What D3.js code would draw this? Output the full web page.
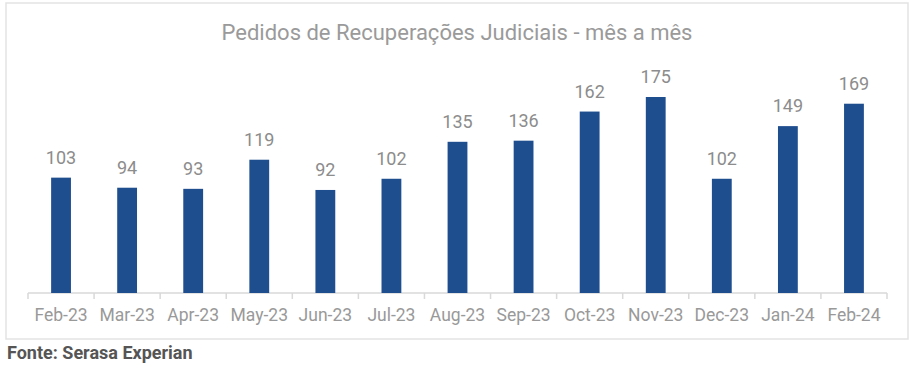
<!DOCTYPE html>
<html>
<head>
<meta charset="utf-8">
<script src="https://cdn.jsdelivr.net/npm/d3@7"></script>
<style>
  body { margin: 0; background: #fff; font-family: Roboto, sans-serif; }
</style>
</head>
<body>
<div id="container"></div>
<script>
/* DATA */
const months = ["Feb-23","Mar-23","Apr-23","May-23","Jun-23","Jul-23","Aug-23","Sep-23","Oct-23","Nov-23","Dec-23","Jan-24","Feb-24"];
const pedidos = [103, 94, 93, 119, 92, 102, 135, 136, 162, 175, 102, 149, 169];

const width = 912;
const height = 376;

const svg = d3.select("#container")
  .append("svg")
  .attr("width", width)
  .attr("height", height);

// frame around the chart
svg.append("rect")
  .attr("x", 6).attr("y", 3)
  .attr("width", 902).attr("height", 336)
  .attr("fill", "none")
  .attr("stroke", "#e3e3e3")
  .attr("stroke-width", 1.5);

// title
svg.append("text")
  .attr("x", 457).attr("y", 40)
  .attr("text-anchor", "middle")
  .attr("font-size", 22)
  .attr("fill", "#9a9a9a")
  .text("Pedidos de Recuperações Judiciais - mês a mês");

/* SCALES */
const xScale = d3.scaleBand()
  .domain(months)
  .range([28, 887])
  .paddingInner(0.7)
  .paddingOuter(0.35);

const yScale = d3.scaleLinear()
  .domain([0, 200])
  .range([293, 69]);

// x axis
const xAxis = svg.append("g")
  .attr("transform", "translate(0,293)");

xAxis.append("line")
  .attr("x1", 28).attr("x2", 887)
  .attr("stroke", "#d9d9d9").attr("stroke-width", 1.5);

const ticks = d3.range(months.length + 1).map(i => 28 + i * (859 / months.length));
xAxis.selectAll("line.tick")
  .data(ticks)
  .join("line")
  .attr("class", "tick")
  .attr("x1", d => d).attr("x2", d => d)
  .attr("y1", 0).attr("y2", 6)
  .attr("stroke", "#d9d9d9").attr("stroke-width", 1.5);

xAxis.selectAll("text")
  .data(months)
  .join("text")
  .attr("x", d => xScale(d) + xScale.bandwidth() / 2)
  .attr("y", 28)
  .attr("text-anchor", "middle")
  .attr("font-size", 17.5)
  .attr("fill", "#999")
  .text(d => d);

// bars
svg.selectAll("rect.bar")
  .data(pedidos)
  .join("rect")
  .attr("class", "bar")
  .attr("x", (d, i) => xScale(months[i]))
  .attr("y", d => yScale(d))
  .attr("width", xScale.bandwidth())
  .attr("height", d => yScale(0) - yScale(d))
  .attr("fill", "#1f4e8f");

// value labels
svg.selectAll("text.val")
  .data(pedidos)
  .join("text")
  .attr("class", "val")
  .attr("x", (d, i) => xScale(months[i]) + xScale.bandwidth() / 2)
  .attr("y", d => yScale(d) - 14)
  .attr("text-anchor", "middle")
  .attr("font-size", 18)
  .attr("fill", "#8c8c8c")
  .text(d => d);

// source
svg.append("text")
  .attr("x", 7).attr("y", 359)
  .attr("font-size", 18)
  .attr("font-weight", "bold")
  .attr("fill", "#555")
  .text("Fonte: Serasa Experian");
</script>
</body>
</html>
